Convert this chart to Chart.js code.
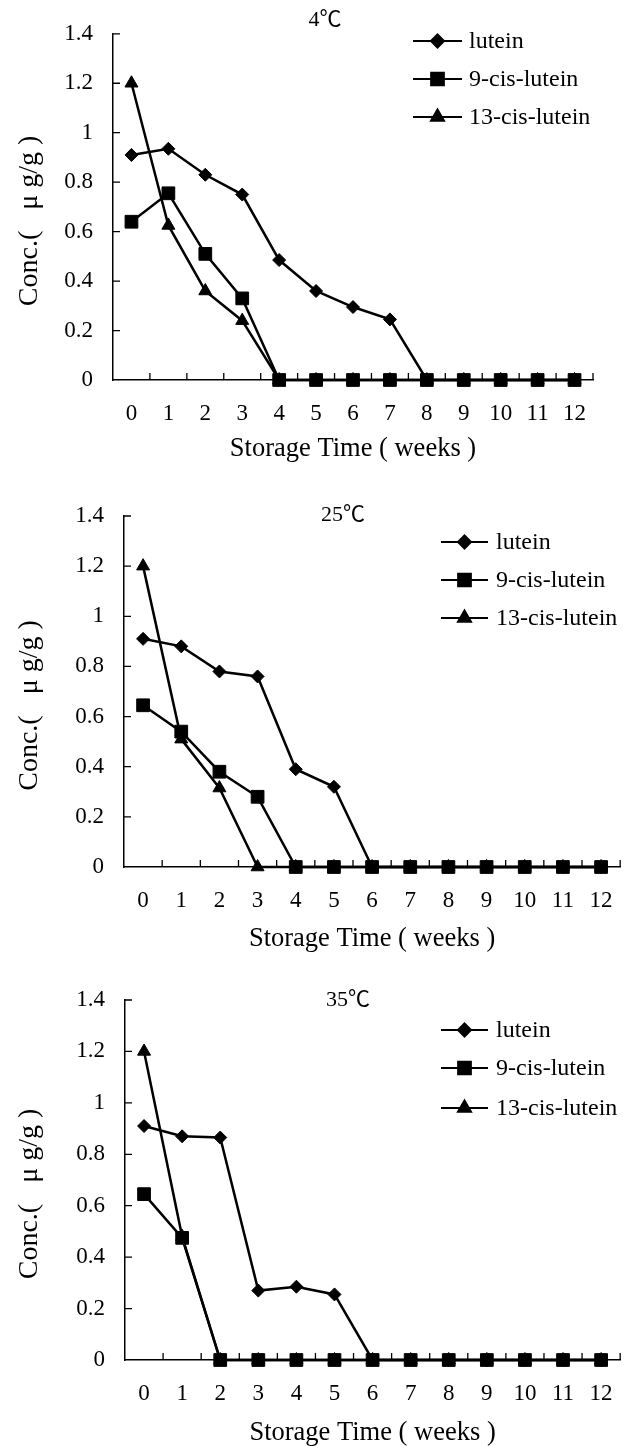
<!DOCTYPE html>
<html>
<head>
<meta charset="utf-8">
<script src="https://cdn.jsdelivr.net/npm/chart.js@4/dist/chart.umd.min.js"></script>
<style>
  html, body { margin: 0; padding: 0; background: #fff; }
  .panel { position: absolute; left: 0; width: 633px; }
</style>
</head>
<body>
<div class="panel" style="top:0;height:470px"><canvas id="chart4"></canvas></div>
<div class="panel" style="top:470px;height:490px"><canvas id="chart25"></canvas></div>
<div class="panel" style="top:960px;height:486px"><canvas id="chart35"></canvas></div>
<script>
/* ---- Data ---- */
const weeks = ["0", "1", "2", "3", "4", "5", "6", "7", "8", "9", "10", "11", "12"];
const seriesNames = ["lutein", "9-cis-lutein", "13-cis-lutein"];
const yTicks = [0, 0.2, 0.4, 0.6, 0.8, 1, 1.2, 1.4];

// 4 °C
const lutein4     = [0.91, 0.935, 0.83, 0.75, 0.485, 0.36, 0.295, 0.245, 0, 0, 0, 0, 0];
const cis9_4      = [0.64, 0.755, 0.51, 0.33, 0, 0, 0, 0, 0, 0, 0, 0, 0];
const cis13_4     = [1.2, 0.625, 0.36, 0.24, 0, 0, 0, 0, 0, 0, 0, 0, 0];

// 25 °C
const lutein25    = [0.91, 0.88, 0.78, 0.76, 0.39, 0.32, 0, 0, 0, 0, 0, 0, 0];
const cis9_25     = [0.645, 0.54, 0.38, 0.28, 0, 0, 0, 0, 0, 0, 0, 0, 0];
const cis13_25    = [1.2, 0.51, 0.315, 0, 0, 0, 0, 0, 0, 0, 0, 0, 0];

// 35 °C
const lutein35    = [0.91, 0.87, 0.865, 0.27, 0.285, 0.255, 0, 0, 0, 0, 0, 0, 0];
const cis9_35     = [0.645, 0.475, 0, 0, 0, 0, 0, 0, 0, 0, 0, 0, 0];
const cis13_35    = [1.2, 0.48, 0, 0, 0, 0, 0, 0, 0, 0, 0, 0, 0];

/* ---- Styling ---- */
const serif = "'Liberation Serif', 'Times New Roman', 'Noto Sans CJK SC', serif";
const markers = [
  { pointStyle: "rectRot", radius: 6.5 },
  { pointStyle: "rect", radius: 9 },
  { pointStyle: "triangle", radius: 7.5 }
];

// short tick marks pointing into the plot, like the original figure
const inwardTicks = {
  id: "inwardTicks",
  beforeDatasetsDraw(chart) {
    const { ctx, chartArea: a, scales: { x, y } } = chart;
    const len = 7;
    const half = (x.getPixelForValue(1) - x.getPixelForValue(0)) / 2;
    ctx.save();
    ctx.strokeStyle = "#000";
    ctx.lineWidth = 1.3;
    ctx.beginPath();
    x.ticks.forEach((t, i) => {
      const px = x.getPixelForTick(i) + half;
      ctx.moveTo(px, a.bottom);
      ctx.lineTo(px, a.bottom - len);
    });
    y.ticks.forEach((t, i) => {
      if (t.value === 0) return;
      const py = y.getPixelForTick(i);
      ctx.moveTo(a.left, py);
      ctx.lineTo(a.left + len, py);
    });
    ctx.stroke();
    ctx.restore();
  }
};

// legend drawn inside the plot: line with the marker in the middle, then the name
const lineLegend = {
  id: "lineLegend",
  afterDraw(chart, args, opts) {
    const { ctx } = chart;
    ctx.save();
    chart.data.datasets.forEach((ds, i) => {
      const y = opts.rows[i];
      ctx.strokeStyle = "#000";
      ctx.fillStyle = "#000";
      ctx.lineWidth = 2;
      ctx.beginPath();
      ctx.moveTo(opts.x1, y);
      ctx.lineTo(opts.x2, y);
      ctx.stroke();
      Chart.helpers.drawPoint(ctx, {
        pointStyle: ds.pointStyle,
        radius: ds.pointRadius,
        rotation: 0,
        borderWidth: 1
      }, (opts.x1 + opts.x2) / 2, y);
      ctx.font = "24px " + serif;
      ctx.textBaseline = "middle";
      ctx.textAlign = "left";
      ctx.fillText(ds.label, opts.tx, y + 1);
    });
    ctx.restore();
  }
};

const panelTitle = {
  id: "panelTitle",
  afterDraw(chart, args, opts) {
    const { ctx } = chart;
    ctx.save();
    ctx.font = "22px " + serif;
    ctx.fillStyle = "#000";
    ctx.textAlign = "center";
    ctx.textBaseline = "middle";
    ctx.fillText(opts.text, opts.x, opts.y);
    ctx.restore();
  }
};

function makeChart(id, values, layout) {
  const datasets = values.map((vals, i) => ({
    label: seriesNames[i],
    data: vals,
    borderColor: "#000",
    backgroundColor: "#000",
    borderWidth: 2.5,
    pointStyle: markers[i].pointStyle,
    pointRadius: markers[i].radius,
    pointBorderWidth: 1,
    tension: 0,
    clip: false,
    // squares sit on top where the series overlap at zero
    order: i === 1 ? 0 : i + 1
  }));

  return new Chart(document.getElementById(id), {
    type: "line",
    data: { labels: weeks, datasets },
    plugins: [inwardTicks, lineLegend, panelTitle],
    options: {
      responsive: true,
      maintainAspectRatio: false,
      animation: false,
      layout: {
        padding: { left: 0, top: layout.top, right: 633 - layout.right, bottom: 0 }
      },
      plugins: {
        legend: { display: false },
        tooltip: { enabled: false },
        lineLegend: layout.legend,
        panelTitle: layout.title
      },
      scales: {
        x: {
          type: "category",
          offset: true,
          grid: { display: false, drawTicks: false },
          border: { display: true, color: "#000", width: 1.5 },
          ticks: { color: "#000", padding: 20, maxRotation: 0, autoSkip: false,
                   font: { family: serif, size: 23 } },
          title: {
            display: true,
            text: "Storage Time ( weeks )",
            color: "#000",
            font: { family: serif, size: 26.5, lineHeight: 1 },
            padding: { top: 0, bottom: layout.xTitlePad }
          },
          afterFit: s => { s.height = layout.xHeight; }
        },
        y: {
          min: 0,
          max: 1.4,
          grid: { display: false, drawTicks: false },
          border: { display: true, color: "#000", width: 1.5 },
          afterBuildTicks: s => { s.ticks = yTicks.map(v => ({ value: v })); },
          ticks: { color: "#000", padding: 20,
                   font: { family: serif, size: 23 },
                   callback: v => +Number(v).toFixed(1) },
          title: {
            display: true,
            // trailing spaces nudge the rotated label down a little, as in the original
            text: "Conc.(   μ g/g )    ",
            color: "#000",
            font: { family: serif, size: 28, lineHeight: 1.2 },
            padding: { top: 13, bottom: 0 }
          },
          afterFit: s => { s.width = layout.left; }
        }
      }
    }
  });
}

makeChart("chart4", [lutein4, cis9_4, cis13_4], {
  top: 17, left: 113, right: 593, xHeight: 90, xTitlePad: 8,
  title: { text: "4℃", x: 325, y: 20 },
  legend: { x1: 413, x2: 462, tx: 469, rows: [41, 79, 117] }
});

makeChart("chart25", [lutein25, cis9_25, cis13_25], {
  top: 46, left: 124, right: 622, xHeight: 93, xTitlePad: 8,
  title: { text: "25℃", x: 343, y: 45 },
  legend: { x1: 441, x2: 488, tx: 496, rows: [72, 110, 148] }
});

makeChart("chart35", [lutein35, cis9_35, cis13_35], {
  top: 40, left: 125, right: 625, xHeight: 86, xTitlePad: 0,
  title: { text: "35℃", x: 348, y: 40 },
  legend: { x1: 441, x2: 488, tx: 496, rows: [70, 108, 148] }
});
</script>
</body>
</html>
